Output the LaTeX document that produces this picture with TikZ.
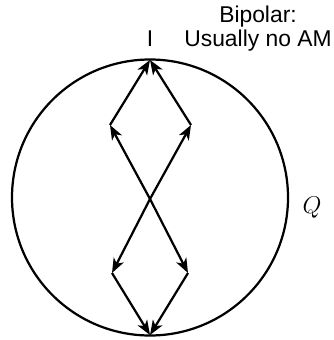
\documentclass[tikz,border=0pt]{standalone}
\usepackage{fontspec}
\setmainfont{Liberation Sans}
\usetikzlibrary{arrows.meta}

\begin{document}
\begin{tikzpicture}[x=0.03cm, y=-0.03cm, every node/.style={font=\fontsize{19.5}{23.5}\selectfont},
    flow/.style={line width=1.9pt, -{Stealth[length=12.5pt, width=9.5pt, inset=3.5pt]}}]
    \useasboundingbox (0,0) rectangle (333,340);
    \draw[line width=1.9pt] (150,197.5) circle[radius=138];

    % turning points of the orbit
    \coordinate (top) at (150,60);
    \coordinate (bot) at (150,335);
    \coordinate (mid) at (150,199);
    \coordinate (ul) at (110,125);
    \coordinate (ur) at (191,125);
    \coordinate (ll) at (112,273);
    \coordinate (lr) at (188,273);

    \draw[flow] (mid) -- (ul);
    \draw[flow] (mid) -- (ur);
    \draw[flow] (mid) -- (ll);
    \draw[flow] (mid) -- (lr);
    \draw[flow] (ul) -- (top);
    \draw[flow] (ur) -- (top);
    \draw[flow] (ll) -- (bot);
    \draw[flow] (lr) -- (bot);

    \node[anchor=base] (ilab) at (150,47) {I};
    \node[anchor=base] (title) at (258,23) {Bipolar:};
    \node[anchor=base] (note) at (258,47) {Usually no AM};
    \node (qlab) at (312,208) {$Q$};
\end{tikzpicture}
\end{document}
